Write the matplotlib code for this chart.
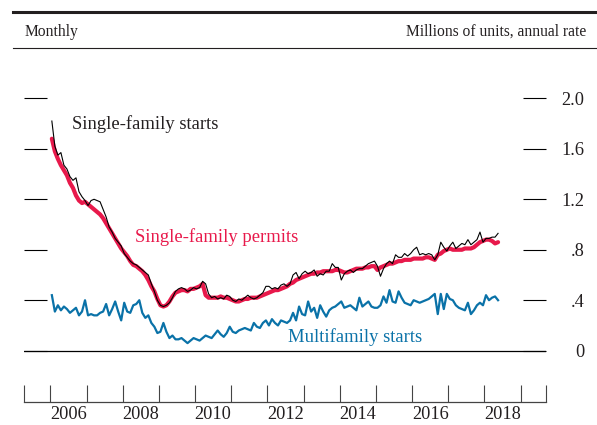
import numpy as np
import matplotlib
matplotlib.use("Agg")
import matplotlib.pyplot as plt
from matplotlib.lines import Line2D

plt.rcParams['font.family'] = ['Liberation Serif', 'DejaVu Serif']

# monthly data, Jan 2006 - May 2018, millions of units (annual rate)
start_year = 2006

sf_starts = [
    1.82, 1.62, 1.55, 1.57, 1.47, 1.44, 1.38, 1.35, 1.37, 1.26, 1.22, 1.19,   # 2006
    1.15, 1.19, 1.20, 1.19, 1.18, 1.12, 1.06, 0.98, 0.94, 0.89, 0.86, 0.83,   # 2007
    0.77, 0.74, 0.71, 0.69, 0.68, 0.66, 0.64, 0.62, 0.60, 0.53, 0.47, 0.40,   # 2008
    0.36, 0.35, 0.36, 0.38, 0.42, 0.47, 0.49, 0.50, 0.49, 0.47, 0.48, 0.50,   # 2009
    0.49, 0.50, 0.55, 0.53, 0.45, 0.42, 0.43, 0.41, 0.42, 0.41, 0.44, 0.43,   # 2010
    0.40, 0.39, 0.41, 0.40, 0.42, 0.44, 0.42, 0.41, 0.42, 0.44, 0.46, 0.51,   # 2011
    0.51, 0.49, 0.50, 0.49, 0.52, 0.53, 0.51, 0.53, 0.60, 0.62, 0.57, 0.61,   # 2012
    0.63, 0.61, 0.62, 0.64, 0.59, 0.61, 0.60, 0.63, 0.63, 0.69, 0.66, 0.66,   # 2013
    0.56, 0.61, 0.63, 0.64, 0.62, 0.64, 0.65, 0.65, 0.67, 0.69, 0.70, 0.71,   # 2014
    0.67, 0.59, 0.65, 0.69, 0.71, 0.69, 0.76, 0.74, 0.74, 0.77, 0.75, 0.77,   # 2015
    0.80, 0.82, 0.76, 0.77, 0.76, 0.77, 0.76, 0.72, 0.76, 0.86, 0.82, 0.79,   # 2016
    0.83, 0.86, 0.81, 0.83, 0.85, 0.84, 0.88, 0.84, 0.86, 0.88, 0.94, 0.86,   # 2017
    0.89, 0.89, 0.90, 0.90, 0.93,                                             # 2018
]

sf_permits = [
    1.68, 1.58, 1.52, 1.47, 1.43, 1.39, 1.33, 1.29, 1.23, 1.19, 1.17, 1.18,
    1.16, 1.14, 1.12, 1.10, 1.08, 1.05, 1.01, 0.97, 0.93, 0.89, 0.85, 0.81,
    0.78, 0.75, 0.71, 0.68, 0.67, 0.65, 0.63, 0.60, 0.56, 0.51, 0.47, 0.41,
    0.36, 0.35, 0.36, 0.39, 0.43, 0.46, 0.47, 0.48, 0.48, 0.47, 0.49, 0.49,
    0.50, 0.51, 0.53, 0.44, 0.42, 0.42, 0.42, 0.42, 0.43, 0.42, 0.42, 0.41,
    0.40, 0.39, 0.39, 0.40, 0.41, 0.41, 0.42, 0.42, 0.42, 0.43, 0.44, 0.45,
    0.46, 0.47, 0.48, 0.48, 0.49, 0.50, 0.51, 0.53, 0.54, 0.56, 0.57, 0.58,
    0.59, 0.60, 0.61, 0.61, 0.62, 0.62, 0.63, 0.63, 0.63, 0.63, 0.64, 0.64,
    0.63, 0.62, 0.62, 0.63, 0.64, 0.65, 0.65, 0.65, 0.66, 0.66, 0.67, 0.67,
    0.64, 0.66, 0.67, 0.68, 0.69, 0.69, 0.70, 0.71, 0.71, 0.72, 0.72, 0.72,
    0.73, 0.73, 0.73, 0.73, 0.74, 0.74, 0.73, 0.72, 0.76, 0.77, 0.79, 0.80,
    0.81, 0.80, 0.80, 0.80, 0.80, 0.81, 0.81, 0.81, 0.82, 0.84, 0.86, 0.87,
    0.88, 0.88, 0.87, 0.85, 0.86,
]

mf_starts = [
    0.44, 0.31, 0.36, 0.32, 0.35, 0.33, 0.30, 0.32, 0.34, 0.28, 0.31, 0.40,
    0.28, 0.29, 0.28, 0.28, 0.30, 0.31, 0.37, 0.28, 0.33, 0.39, 0.31, 0.24,
    0.38, 0.31, 0.30, 0.36, 0.37, 0.40, 0.30, 0.26, 0.28, 0.22, 0.19, 0.14,
    0.15, 0.22, 0.15, 0.10, 0.12, 0.09, 0.09, 0.10, 0.08, 0.06, 0.08, 0.10,
    0.09, 0.08, 0.10, 0.12, 0.11, 0.10, 0.13, 0.16, 0.13, 0.11, 0.14, 0.19,
    0.15, 0.14, 0.16, 0.17, 0.18, 0.17, 0.16, 0.22, 0.19, 0.18, 0.22, 0.24,
    0.20, 0.25, 0.22, 0.20, 0.24, 0.23, 0.22, 0.24, 0.30, 0.24, 0.35, 0.29,
    0.28, 0.39, 0.31, 0.34, 0.26, 0.36, 0.31, 0.27, 0.32, 0.34, 0.35, 0.37,
    0.39, 0.34, 0.35, 0.36, 0.34, 0.32, 0.42, 0.35, 0.37, 0.39, 0.35, 0.34,
    0.34, 0.36, 0.43, 0.38, 0.48, 0.39, 0.38, 0.47, 0.42, 0.38, 0.37, 0.36,
    0.40, 0.39, 0.38, 0.39, 0.40, 0.41, 0.43, 0.45, 0.29, 0.45, 0.33, 0.45,
    0.41, 0.40, 0.36, 0.34, 0.33, 0.32, 0.38, 0.29, 0.32, 0.36, 0.38, 0.36,
    0.44, 0.40, 0.42, 0.43, 0.40,
]

y_ticks = [0.4, 0.8, 1.2, 1.6, 2.0]
y_labels = ['0', '.4', '.8', '1.2', '1.6', '2.0']
year_labels = [2006, 2008, 2010, 2012, 2014, 2016, 2018]

red = '#E8194B'
blue = '#0A72A8'
dark = '#231F20'

t = start_year + (np.arange(len(sf_starts)) + 0.5) / 12

fig = plt.figure(figsize=(5.97, 4.25), dpi=100)
W, H = 597, 425
x0, x1 = 24.3, 546.0
ybot, ytop = 402.3, 73.1
ax = fig.add_axes([x0 / W, (H - ybot) / H, (x1 - x0) / W, (ybot - ytop) / H])

xmin, xmax = 2005.28, 2019.70
ax.set_xlim(xmin, xmax)
ax.set_ylim(-0.409, 2.2)

ax.plot(t, sf_permits, color=red, lw=3.0, solid_capstyle='round', zorder=3)
ax.plot(t, mf_starts, color=blue, lw=1.6, zorder=3)
ax.plot(t, sf_starts, color='black', lw=0.8, zorder=4)

ax.axhline(0, color='black', lw=0.9, zorder=2)

for s in ['top', 'left', 'right']:
    ax.spines[s].set_visible(False)
ax.spines['bottom'].set_linewidth(0.9)
ax.spines['bottom'].set_color('#444444')

# y ticks on both sides, labels on the right
ax.yaxis.set_ticks_position('both')
ax.tick_params(axis='y', direction='in', length=16.5, width=0.8, color='black',
               left=True, right=True, labelleft=False, labelright=True,
               pad=27.5, labelsize=13.2, labelcolor=dark)
ax.set_yticks([0] + y_ticks)
ax.set_yticklabels(y_labels)
for lab in ax.get_yticklabels():
    lab.set_horizontalalignment('right')

# x ticks at year boundaries, labels mid-year
ax.set_xticks([xmin] + list(range(2006, 2020)) + [xmax])
ax.set_xticklabels([])
ax.set_xticks([y + 0.5 for y in year_labels], minor=True)
ax.set_xticklabels([str(y) for y in year_labels], minor=True)
ax.tick_params(axis='x', which='major', direction='in', length=12.5, width=0.8, color='#444444')
ax.tick_params(axis='x', which='minor', length=0, pad=2.5, labelsize=13.2, labelcolor=dark)

# series labels
ax.text(2006.59, 1.80, 'Single-family starts', color=dark, fontsize=13.4, va='center', ha='left')
ax.text(2008.33, 0.90, 'Single-family permits', color=red, fontsize=13.4, va='center', ha='left')
ax.text(2012.58, 0.11, 'Multifamily starts', color=blue, fontsize=13.4, va='center', ha='left')

# header
fig.add_artist(Line2D([13 / W, 1.0], [1 - 11.5 / H, 1 - 11.5 / H], color=dark, lw=2.2))
fig.add_artist(Line2D([13 / W, 1.0], [1 - 47.5 / H, 1 - 47.5 / H], color=dark, lw=0.8))
fig.text(25 / W, 1 - 31.5 / H, 'Monthly', fontsize=11.2, color=dark, va='center', ha='left')
fig.text(586 / W, 1 - 31.5 / H, 'Millions of units, annual rate', fontsize=11.2, color=dark,
         va='center', ha='right')

fig.savefig('out.png', dpi=100)
